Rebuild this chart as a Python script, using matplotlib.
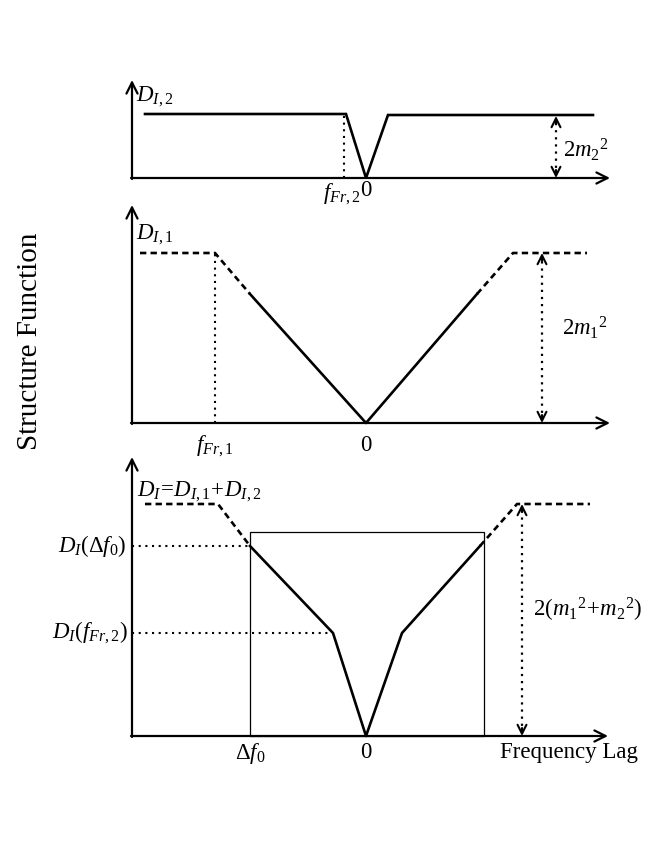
import matplotlib.pyplot as plt
from matplotlib.patches import Rectangle

plt.rcParams['font.family'] = ['Liberation Serif', 'DejaVu Serif']
plt.rcParams['mathtext.fontset'] = 'custom'
plt.rcParams['mathtext.rm'] = 'Liberation Serif'
plt.rcParams['mathtext.it'] = 'Liberation Serif:italic'
plt.rcParams['mathtext.bf'] = 'Liberation Serif:bold'

# --- schematic data (lag in arbitrary units, 0 = zero lag) ---
# panel 1: D_I,2
lag_p1 = [-2.21, -0.20, 0.0, 0.22, 2.27]
d_p1 = [0.64, 0.64, 0.0, 0.63, 0.63]
f_fr2 = -0.22
sat_p1 = 0.64

# panel 2: D_I,1
lag_p2 = [-1.16, 0.0, 1.11]
d_p2 = [1.29, 0.0, 1.29]
lag_p2_left = [-2.26, -1.51, -1.16]
d_p2_left = [1.70, 1.70, 1.29]
lag_p2_right = [1.11, 1.47, 2.21]
d_p2_right = [1.29, 1.70, 1.70]
f_fr1 = -1.51
sat_p2 = 1.70

# panel 3: D_I = D_I,1 + D_I,2
lag_p3 = [-1.16, -0.33, 0.0, 0.36, 1.14]
d_p3 = [1.90, 1.03, 0.0, 1.03, 1.90]
lag_p3_left = [-2.21, -1.48, -1.16]
d_p3_left = [2.32, 2.32, 1.90]
lag_p3_right = [1.14, 1.51, 2.24]
d_p3_right = [1.90, 2.32, 2.32]
delta_f0 = -1.16
window = [-1.16, 1.18]
window_top = 2.04
d_at_df0 = 1.90
d_at_ffr2 = 1.03
sat_p3 = 2.32

W, H = 654, 846
fig = plt.figure(figsize=(W / 100, H / 100), dpi=100)


def panel(top, bottom, base):
    # axes spanning full width, 1 data unit = 100 px in both directions
    ax = fig.add_axes([0, 1 - bottom / H, 1, (bottom - top) / H])
    ax.set_xlim(-3.66, 2.88)
    ax.set_ylim((base - bottom) / 100, (base - top) / 100)
    ax.axis('off')
    return ax


def axes_arrows(ax, xend, ytop):
    ax.annotate('', xy=(xend, 0), xytext=(-2.35, 0),
                arrowprops=dict(arrowstyle='->', lw=1.6, color='black',
                                shrinkA=0, shrinkB=0, mutation_scale=20))
    ax.annotate('', xy=(-2.34, ytop), xytext=(-2.34, -0.01),
                arrowprops=dict(arrowstyle='->', lw=1.6, color='black',
                                shrinkA=0, shrinkB=0, mutation_scale=20))


def double_arrow(ax, x, ytop):
    ax.plot([x, x], [0.03, ytop - 0.03], ls=(0, (1, 2.2)), lw=1.6, color='black')
    for y0, y1 in [(0.08, 0), (ytop - 0.08, ytop)]:
        ax.annotate('', xy=(x, y1), xytext=(x, y0),
                    arrowprops=dict(arrowstyle='->', lw=1.5, color='black',
                                    shrinkA=0, shrinkB=0, mutation_scale=16))


fs = 16.5
dot = (0, (1, 2.2))
dash = (0, (2.4, 1.6))

# ---------------- panel 1 ----------------
ax1 = panel(60, 200, 178)
axes_arrows(ax1, 2.44, 0.98)
ax1.plot(lag_p1, d_p1, color='black', lw=1.9, solid_joinstyle='miter')
ax1.plot([f_fr2, f_fr2], [0, sat_p1], ls=dot, lw=1.5, color='black')
double_arrow(ax1, 1.90, 0.62)
ax1.text(-2.30, 0.81, r'$D_{I\mathrm{,2}}$', fontsize=fs, va='center', ha='left')
ax1.text(1.97, 0.28, r'$\mathit{2m}_{\mathrm{2}}{}^{\mathrm{2}}$', fontsize=fs,
         va='center', ha='left')
ax1.text(-0.05, -0.16, r'$f_{Fr\mathit{,2}}$', fontsize=fs, va='center', ha='right')
ax1.text(0.0, -0.13, '0', fontsize=fs, va='center', ha='center')

# ---------------- panel 2 ----------------
ax2 = panel(200, 460, 423)
axes_arrows(ax2, 2.44, 2.18)
ax2.plot(lag_p2, d_p2, color='black', lw=1.9)
ax2.plot(lag_p2_left, d_p2_left, color='black', lw=1.9, ls=dash)
ax2.plot(lag_p2_right, d_p2_right, color='black', lw=1.9, ls=dash)
ax2.plot([f_fr1, f_fr1], [0, sat_p2], ls=dot, lw=1.5, color='black')
double_arrow(ax2, 1.76, sat_p2)
ax2.text(-2.30, 1.88, r'$D_{I\mathrm{,1}}$', fontsize=fs, va='center', ha='left')
ax2.text(1.96, 0.95, r'$\mathit{2m}_{\mathrm{1}}{}^{\mathrm{2}}$', fontsize=fs,
         va='center', ha='left')
ax2.text(f_fr1, -0.23, r'$f_{Fr\mathrm{,1}}$', fontsize=fs, va='center', ha='center')
ax2.text(0.0, -0.22, '0', fontsize=fs, va='center', ha='center')

# ---------------- panel 3 ----------------
ax3 = panel(450, 780, 736)
axes_arrows(ax3, 2.42, 2.79)
ax3.add_patch(Rectangle((window[0], 0), window[1] - window[0], window_top,
                        fill=False, lw=0.9, edgecolor='black'))
ax3.plot(lag_p3, d_p3, color='black', lw=1.9)
ax3.plot(lag_p3_left, d_p3_left, color='black', lw=1.9, ls=dash)
ax3.plot(lag_p3_right, d_p3_right, color='black', lw=1.9, ls=dash)
ax3.plot([-2.34, delta_f0], [d_at_df0, d_at_df0], ls=dot, lw=1.5, color='black')
ax3.plot([-2.34, lag_p3[1]], [d_at_ffr2, d_at_ffr2], ls=dot, lw=1.5, color='black')
double_arrow(ax3, 1.56, sat_p3)
ax3.text(-2.29, 2.44, r'$D_{I}\!=\!D_{I,\mathit{1}}\!+\!D_{I,\mathit{2}}$', fontsize=fs,
         va='center', ha='left')
ax3.text(-2.39, d_at_df0, r'$D_{I}(\Delta f_{0})$', fontsize=fs, va='center', ha='right')
ax3.text(-2.38, d_at_ffr2, r'$D_{I}(f_{Fr\mathrm{,2}})$', fontsize=fs, va='center', ha='right')
ax3.text(1.67, 1.26,
         r'$\mathit{2}(m_{\mathrm{1}}{}^{\mathrm{2}}\!+\!m_{\mathrm{2}}{}^{\mathrm{2}})$',
         fontsize=fs, va='center', ha='left')
ax3.text(delta_f0, -0.17, r'$\Delta f_{0}$', fontsize=fs, va='center', ha='center')
ax3.text(0.0, -0.16, '0', fontsize=fs, va='center', ha='center')
ax3.text(1.34, -0.16, 'Frequency Lag', fontsize=fs, va='center', ha='left')

fig.text(30 / W, 1 - 341 / H, 'Structure Function', rotation=90, fontsize=21,
         va='center', ha='center')

fig.savefig('out.png', dpi=100, facecolor='white')
